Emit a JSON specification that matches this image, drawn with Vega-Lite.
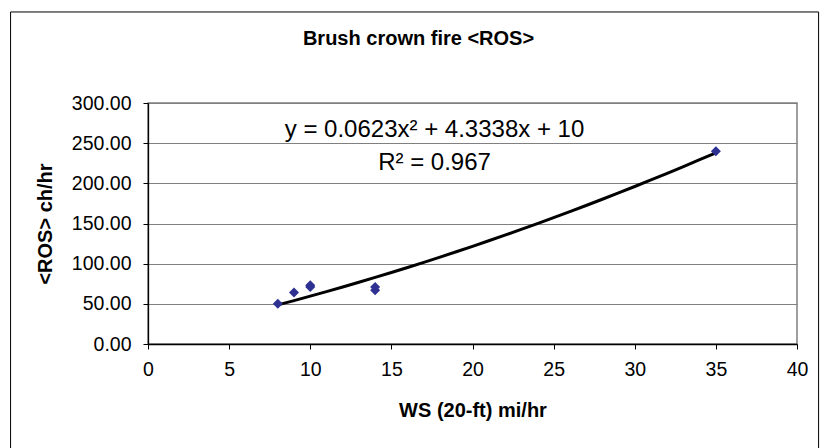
{
  "$schema": "https://vega.github.io/schema/vega-lite/v6.json",
  "autosize": "none",
  "width": 649,
  "height": 241,
  "padding": {"left": 148, "top": 103, "right": 24, "bottom": 104},
  "background": "white",
  "config": {
    "font": "Liberation Sans",
    "view": {"stroke": "#808080", "strokeWidth": 1.5}
  },
  "title": {
    "text": "Brush crown fire <ROS>",
    "fontSize": 20,
    "fontWeight": "bold",
    "color": "#000000",
    "frame": "group",
    "dx": -54,
    "offset": -38
  },
  "datasets": {
    "obs": [
      {"ws": 8, "ros": 50},
      {"ws": 9, "ros": 64},
      {"ws": 10, "ros": 71},
      {"ws": 10, "ros": 73},
      {"ws": 14, "ros": 67},
      {"ws": 14, "ros": 71},
      {"ws": 35, "ros": 240}
    ],
    "trend": [
      {"ws": 8, "ros": 48.66}, {"ws": 9, "ros": 54.05}, {"ws": 10, "ros": 59.57},
      {"ws": 11, "ros": 65.21}, {"ws": 12, "ros": 70.98}, {"ws": 13, "ros": 76.87},
      {"ws": 14, "ros": 82.88}, {"ws": 15, "ros": 89.02}, {"ws": 16, "ros": 95.29},
      {"ws": 17, "ros": 101.68}, {"ws": 18, "ros": 108.19}, {"ws": 19, "ros": 114.83},
      {"ws": 20, "ros": 121.6}, {"ws": 21, "ros": 128.48}, {"ws": 22, "ros": 135.5},
      {"ws": 23, "ros": 142.63}, {"ws": 24, "ros": 149.9}, {"ws": 25, "ros": 157.28},
      {"ws": 26, "ros": 164.79}, {"ws": 27, "ros": 172.43}, {"ws": 28, "ros": 180.19},
      {"ws": 29, "ros": 188.07}, {"ws": 30, "ros": 196.08}, {"ws": 31, "ros": 204.22},
      {"ws": 32, "ros": 212.48}, {"ws": 33, "ros": 220.86}, {"ws": 34, "ros": 229.37},
      {"ws": 35, "ros": 238.0}
    ],
    "labels": [
      {"ws": 17.66, "ros": 267, "txt": "y = 0.0623x² + 4.3338x + 10"},
      {"ws": 17.66, "ros": 225, "txt": "R² = 0.967"}
    ],
    "frame": [
      {"x1": -8.47, "y1": 413.3, "x2": -8.47, "y2": -140},
      {"x1": -8.47, "y1": 413.3, "x2": 41.33, "y2": 413.3},
      {"x1": 41.33, "y1": 413.3, "x2": 41.33, "y2": -140}
    ]
  },
  "encoding": {
    "x": {
      "field": "ws", "type": "quantitative",
      "scale": {"domain": [0, 40], "nice": false},
      "axis": {
        "title": "WS (20-ft) mi/hr",
        "titleFontSize": 20, "titleFontWeight": "bold", "titleColor": "#000",
        "titlePadding": 22,
        "values": [0, 5, 10, 15, 20, 25, 30, 35, 40],
        "labelFontSize": 19.5, "labelColor": "#000", "labelPadding": 11,
        "tickSize": 5, "tickColor": "#000", "domainColor": "#000",
        "domainWidth": 1.3, "grid": false, "labelFlush": false
      }
    },
    "y": {
      "field": "ros", "type": "quantitative",
      "scale": {"domain": [0, 300], "nice": false},
      "axis": {
        "title": "<ROS> ch/hr",
        "titleFontSize": 20, "titleFontWeight": "bold", "titleColor": "#000",
        "titlePadding": 16,
        "values": [0, 50, 100, 150, 200, 250, 300],
        "format": ".2f",
        "labelFontSize": 19.5, "labelColor": "#000", "labelPadding": 12,
        "tickSize": 5, "tickColor": "#000", "domainColor": "#000",
        "domainWidth": 1.3, "grid": true, "gridColor": "#808080",
        "gridWidth": 1.2, "labelFlush": false
      }
    }
  },
  "layer": [
    {
      "data": {"name": "frame"},
      "mark": {"type": "rule", "color": "#000", "strokeWidth": 1, "clip": false},
      "encoding": {
        "x": {"field": "x1", "type": "quantitative"},
        "y": {"field": "y1", "type": "quantitative"},
        "x2": {"field": "x2"},
        "y2": {"field": "y2"}
      }
    },
    {
      "data": {"name": "trend"},
      "mark": {"type": "line", "color": "#000000", "strokeWidth": 3}
    },
    {
      "data": {"name": "obs"},
      "mark": {"type": "point", "shape": "diamond", "filled": true, "size": 100, "color": "#2E3192", "opacity": 1}
    },
    {
      "data": {"name": "labels"},
      "mark": {"type": "text", "fontSize": 24, "color": "#000", "align": "center", "baseline": "middle"},
      "encoding": {"text": {"field": "txt"}}
    }
  ]
}
